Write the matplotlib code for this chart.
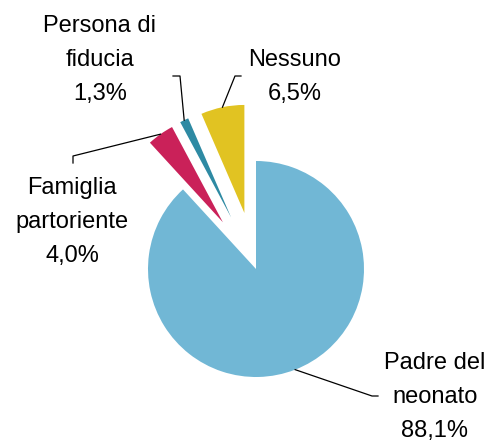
import matplotlib
matplotlib.use("Agg")
import matplotlib.pyplot as plt
import numpy as np

plt.rcParams['font.family'] = ['Liberation Sans', 'DejaVu Sans']

categories = ["Padre del\nneonato", "Famiglia\npartoriente", "Persona di\nfiducia", "Nessuno"]
values = [88.1, 4.0, 1.3, 6.5]
colors = ["#71B7D5", "#CA2159", "#2E8AA3", "#E1C322"]
explode = [0.0, 0.53, 0.53, 0.53]

W, H = 489, 441
CX, CY, R = 256, 269, 108

fig = plt.figure(figsize=(W / 100, H / 100), dpi=100)
ax = fig.add_axes([0, 0, 1, 1])


def P(xp, yp):
    return ((xp - CX) / R, (CY - yp) / R)


wedges, _ = ax.pie(values, colors=colors, explode=explode, startangle=90,
                   counterclock=False, radius=1.0,
                   wedgeprops=dict(linewidth=0))

ax.set_xlim(-CX / R, (W - CX) / R)
ax.set_ylim((CY - H) / R, CY / R)
ax.set_aspect('auto')
ax.axis('off')

# label positions (px) and leader elbows (px)
label_pos = [(435, 397), (72, 222), (100, 60), (295, 77)]
elbows = [[(378, 396), (372, 396)],
          [(73, 163), (73, 156)],
          [(173, 76), (180, 76)],
          [(241, 76), (235, 76)]]

for w, cat, v, lp, el in zip(wedges, categories, values, label_pos, elbows):
    txt = cat + "\n" + f"{v:.1f}".replace('.', ',') + "%"
    x, y = P(*lp)
    ax.text(x, y, txt, ha='center', va='center', fontsize=17,
            linespacing=1.68, color='black')
    ang = np.deg2rad((w.theta1 + w.theta2) / 2)
    tx = w.center[0] + w.r * np.cos(ang)
    ty = w.center[1] + w.r * np.sin(ang)
    pts = [P(*e) for e in el] + [(tx, ty)]
    ax.plot([p[0] for p in pts], [p[1] for p in pts], color='black', lw=0.9)

fig.savefig("out.png", dpi=100)
